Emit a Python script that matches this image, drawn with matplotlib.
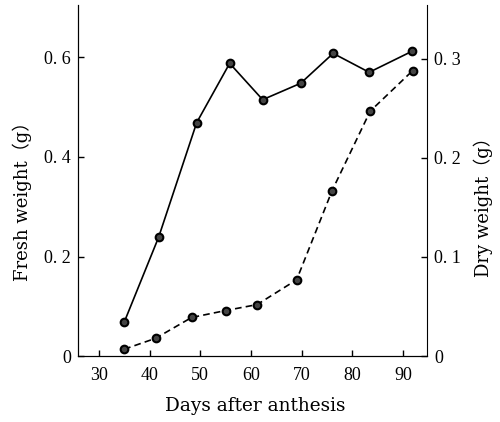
import matplotlib.pyplot as plt

plt.rcParams['font.family'] = ['Liberation Serif', 'DejaVu Serif']
plt.rcParams['font.size'] = 11

# fresh weight (g), left axis
dias_fresco = [35, 41.8, 49.3, 55.8, 62.3, 69.8, 76.2, 83.3, 91.7]
peso_fresco = [0.068, 0.239, 0.469, 0.588, 0.515, 0.548, 0.608, 0.570, 0.612]

# dry weight (g), right axis
dias_seco = [35, 41.2, 48.3, 55.0, 61.2, 69.0, 76.0, 83.5, 91.9]
peso_seco = [0.007, 0.018, 0.039, 0.046, 0.052, 0.077, 0.167, 0.247, 0.288]

xticks = [30, 40, 50, 60, 70, 80, 90]

fig = plt.figure(figsize=(5, 4.22), dpi=100)
ax = fig.add_axes([0.156, 0.156, 0.698, 0.832])
ax2 = ax.twinx()

ax.plot(dias_fresco, peso_fresco, '-', color='black', lw=1.2,
        marker='o', ms=5.5, mfc='#444444', mec='black', mew=1.5)
ax2.plot(dias_seco, peso_seco, '--', color='black', lw=1.2, dashes=(4, 2.5),
         marker='o', ms=5.5, mfc='#444444', mec='black', mew=1.5)

ax.set_xlim(25.9, 94.7)
ax.set_ylim(0, 0.705)
ax2.set_ylim(0, 0.354)
ax.set_xticks(xticks)
ax.set_yticks([0, 0.2, 0.4, 0.6])
ax.set_yticklabels(['0', '0. 2', '0. 4', '0. 6'])
ax2.set_yticks([0, 0.1, 0.2, 0.3])
ax2.set_yticklabels(['0', '0. 1', '0. 2', '0. 3'])

for a in (ax, ax2):
    a.spines['top'].set_visible(False)
    a.tick_params(direction='in', length=4, width=1, labelsize=13, pad=5)
ax.tick_params(axis='x', pad=8)
ax.spines['right'].set_visible(False)

fuente = ['DejaVu Serif', 'Noto Sans CJK JP']
ax.set_xlabel('Days after anthesis', fontsize=13.3, family=fuente)
ax.set_ylabel('Fresh weight（g）', fontsize=13, family=fuente)
ax2.set_ylabel('Dry weight（g）', fontsize=13, family=fuente)

# posiciones de las etiquetas como en el original
ax.xaxis.label.set_va('center')
ax.xaxis.set_label_coords(0.507, -0.142)
ax.yaxis.label.set_va('center')
ax.yaxis.set_label_coords(-0.160, 0.453)
ax2.yaxis.label.set_va('center')
ax2.yaxis.set_label_coords(1.160, 0.436)

fig.savefig('out.png', dpi=100, facecolor='white')
